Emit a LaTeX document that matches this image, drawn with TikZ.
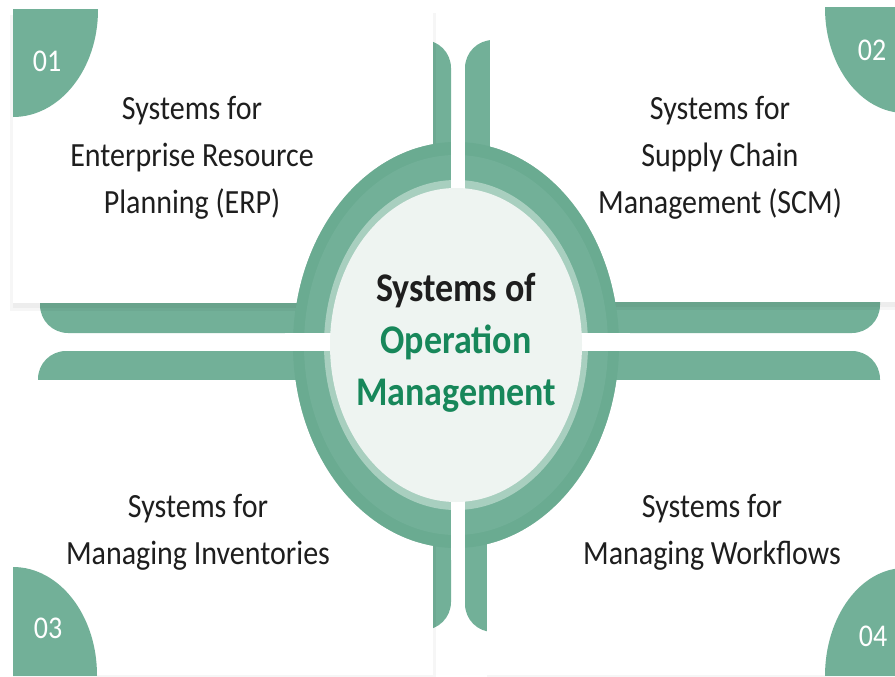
\documentclass[tikz,border=0pt]{standalone}
\usepackage{fontspec}
\setmainfont{Carlito}
\definecolor{plategreen}{HTML}{72B098}
\definecolor{ringgreen}{HTML}{6AAB91}
\definecolor{ringlight}{HTML}{A8CFBF}
\definecolor{core}{HTML}{EEF4F1}
\definecolor{deepgreen}{HTML}{17875A}
\definecolor{ink}{HTML}{1E1E1E}
\newcommand{\tall}[1]{\scalebox{1}[1.13]{#1}}

\begin{document}
\begin{tikzpicture}[x=1pt, y=-1pt,
    plate/.style={fill=plategreen, rounded corners=28pt},
    card/.style={fill=white},
    cardshade/.style={fill=black, opacity=0.035},
    itemtext/.style={text=ink, font=\fontsize{30}{41.5}\selectfont},
    num/.style={text=white, font=\fontsize{28}{30}\selectfont}]
    \useasboundingbox (0,0) rectangle (895,677);

    % green plates behind the cards
    \fill[plate] (40,40) rectangle (451,333);
    \fill[plate] (465,40) rectangle (880,333);
    \fill[plate] (38,351) rectangle (451,630);
    \fill[plate] (465,351) rectangle (880,632);

    % ring round the hub
    \fill[ringgreen] (456,345) ellipse [x radius=163pt, y radius=203pt];
    \fill[plategreen] (456,345) ellipse [x radius=152pt, y radius=190pt];
    \fill[ringlight] (456,345) ellipse [x radius=132pt, y radius=165pt];
    \fill[white] (451,130) rectangle (465,560);
    \fill[white] (285,333) rectangle (630,351);
    \fill[core] (456,345) ellipse [x radius=126pt, y radius=157pt];

    % cards, cut by the ring
    \begin{scope}[even odd rule]
      \clip (-5,-5) rectangle (900,682)
        (456,345) ellipse [x radius=163pt, y radius=203pt];
      \fill[cardshade] (13,13) rectangle (436,308);
      \fill[cardshade] (10,15) rectangle (433,311);
      \fill[cardshade] (490,13) rectangle (899,307);
      \fill[cardshade] (493,15) rectangle (899,310);
      \fill[cardshade] (13,383) rectangle (436,680);
      \fill[cardshade] (487,383) rectangle (899,680);
      \fill[card] (13,10) rectangle (433,303);
      \fill[card] (490,8) rectangle (895,302);
      \fill[card] (13,380) rectangle (433,675);
      \fill[card] (487,380) rectangle (895,675);
    \end{scope}

    % number corners
    \begin{scope}
      \clip (13,10) rectangle (433,303);
      \fill[plategreen] (13,10) ellipse [x radius=85pt, y radius=107pt];
    \end{scope}
    \begin{scope}
      \clip (490,8) rectangle (895,302);
      \fill[plategreen] (905,8) ellipse [x radius=80pt, y radius=105pt];
    \end{scope}
    \begin{scope}
      \clip (13,380) rectangle (433,675);
      \fill[plategreen] (13,675) ellipse [x radius=84pt, y radius=108pt];
    \end{scope}
    \begin{scope}
      \clip (487,380) rectangle (895,675);
      \fill[plategreen] (905,676) ellipse [x radius=80pt, y radius=108pt];
    \end{scope}

    \node[num] (n1) at (47,61) {\tall{01}};
    \node[num] (n2) at (872,50) {\tall{02}};
    \node[num] (n3) at (48,628) {\tall{03}};
    \node[num] (n4) at (873,636) {\tall{04}};

    % texts
    \node[itemtext] (erp) at (192,157)
      {\tall{\begin{tabular}{@{}c@{}}Systems for\\Enterprise Resource\\Planning (ERP)\end{tabular}}};
    \node[itemtext] (scm) at (720,157)
      {\tall{\begin{tabular}{@{}c@{}}Systems for\\Supply Chain\\Management (SCM)\end{tabular}}};
    \node[itemtext] (inv) at (198,532)
      {\tall{\begin{tabular}{@{}c@{}}Systems for\\Managing Inventories\end{tabular}}};
    \node[itemtext] (flow) at (712,532)
      {\tall{\begin{tabular}{@{}c@{}}Systems for\\Managing Workflows\end{tabular}}};

    \node[text=ink, font=\fontsize{36}{46}\selectfont\bfseries] (hub) at (456,343)
      {\tall{\begin{tabular}{@{}c@{}}Systems of\\\textcolor{deepgreen}{Operation}\\\textcolor{deepgreen}{Management}\end{tabular}}};
\end{tikzpicture}
\end{document}
